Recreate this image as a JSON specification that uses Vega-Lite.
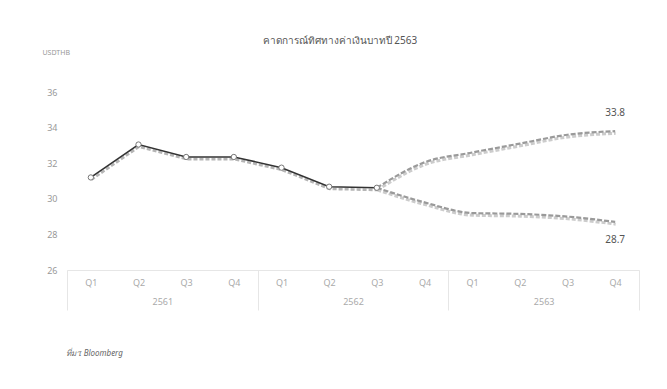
{
  "$schema": "https://vega.github.io/schema/vega-lite/v6.json",
  "width": 572,
  "height": 178,
  "autosize": "none",
  "padding": {"left": 67, "top": 92, "right": 28, "bottom": 119},
  "background": "white",
  "config": {
    "view": {"stroke": null},
    "font": "Noto Sans",
    "axis": {"labelFont": "Noto Sans", "titleFont": "Noto Sans"}
  },
  "title": {
    "text": "คาดการณ์ทิศทางค่าเงินบาทปี 2563",
    "fontSize": 10,
    "fontWeight": "normal",
    "color": "#555555",
    "anchor": "middle",
    "dx": -13,
    "offset": 2
  },
  "data": {
    "values": [
      {"key": "2561 Q1", "year": "2561", "series": "actual", "value": 31.2},
      {"key": "2561 Q2", "year": "2561", "series": "actual", "value": 33.05},
      {"key": "2561 Q3", "year": "2561", "series": "actual", "value": 32.35},
      {"key": "2561 Q4", "year": "2561", "series": "actual", "value": 32.35},
      {"key": "2562 Q1", "year": "2562", "series": "actual", "value": 31.75},
      {"key": "2562 Q2", "year": "2562", "series": "actual", "value": 30.68},
      {"key": "2562 Q3", "year": "2562", "series": "actual", "value": 30.62},
      {"key": "2562 Q3", "year": "2562", "series": "high", "value": 30.62},
      {"key": "2562 Q4", "year": "2562", "series": "high", "value": 32.05},
      {"key": "2563 Q1", "year": "2563", "series": "high", "value": 32.6},
      {"key": "2563 Q2", "year": "2563", "series": "high", "value": 33.1},
      {"key": "2563 Q3", "year": "2563", "series": "high", "value": 33.6},
      {"key": "2563 Q4", "year": "2563", "series": "high", "value": 33.8},
      {"key": "2562 Q3", "year": "2562", "series": "low", "value": 30.62},
      {"key": "2562 Q4", "year": "2562", "series": "low", "value": 29.8},
      {"key": "2563 Q1", "year": "2563", "series": "low", "value": 29.2},
      {"key": "2563 Q2", "year": "2563", "series": "low", "value": 29.15},
      {"key": "2563 Q3", "year": "2563", "series": "low", "value": 29.0},
      {"key": "2563 Q4", "year": "2563", "series": "low", "value": 28.7}
    ]
  },
  "encoding": {
    "y": {
      "field": "value",
      "type": "quantitative",
      "scale": {"domain": [26, 36], "nice": false, "zero": false},
      "axis": {
        "values": [26, 28, 30, 32, 34, 36],
        "title": "USDTHB",
        "titleAngle": 0,
        "titleAlign": "left",
        "titleBaseline": "middle",
        "titleX": -25,
        "titleY": -40,
        "titleFontSize": 7,
        "titleFontWeight": "normal",
        "titleColor": "#999999",
        "labelFontSize": 9,
        "labelColor": "#999999",
        "labelPadding": 10,
        "domain": false,
        "ticks": false,
        "grid": false
      }
    }
  },
  "layer": [
    {
      "encoding": {
        "x": {
          "field": "key",
          "type": "ordinal",
          "scale": {
            "type": "point",
            "padding": 0.5,
            "domain": ["2561 Q1", "2561 Q2", "2561 Q3", "2561 Q4", "2562 Q1", "2562 Q2", "2562 Q3", "2562 Q4", "2563 Q1", "2563 Q2", "2563 Q3", "2563 Q4"]
          },
          "axis": {
            "title": null,
            "labelExpr": "split(datum.label, ' ')[1]",
            "labelAngle": 0,
            "labelFontSize": 9,
            "labelColor": "#aaaaaa",
            "labelPadding": 8,
            "ticks": false,
            "domainColor": "#e6e6e6",
            "grid": false
          }
        }
      },
      "layer": [
        {
          "transform": [{"filter": "datum.series == 'actual'"}],
          "mark": {"type": "line", "color": "#b5b5b5", "strokeWidth": 2.6, "strokeDash": [4, 2], "yOffset": 2.2, "xOffset": 0.5},
          "encoding": {}
        },
        {
          "transform": [{"filter": "datum.series != 'actual'"}],
          "mark": {"type": "line", "color": "#cccccc", "strokeWidth": 3, "strokeDash": [4, 2], "yOffset": 2.2, "xOffset": 0.5, "interpolate": "monotone"},
          "encoding": {"detail": {"field": "series"}}
        },
        {
          "transform": [{"filter": "datum.series != 'actual'"}],
          "mark": {"type": "line", "color": "#9a9a9a", "strokeWidth": 2.2, "strokeDash": [5, 2], "interpolate": "monotone"},
          "encoding": {"detail": {"field": "series"}}
        },
        {
          "transform": [{"filter": "datum.series == 'actual'"}],
          "mark": {"type": "line", "color": "#333333", "strokeWidth": 1.6},
          "encoding": {}
        },
        {
          "transform": [{"filter": "datum.series == 'actual'"}],
          "mark": {"type": "point", "shape": "circle", "filled": true, "fill": "white", "stroke": "#777777", "strokeWidth": 1, "size": 28, "opacity": 1}
        },
        {
          "transform": [{"filter": "datum.series == 'high' && datum.key == '2563 Q4'"}],
          "mark": {"type": "text", "dy": -18, "fontSize": 10, "color": "#555555"},
          "encoding": {"text": {"field": "value", "type": "quantitative", "format": ".1f"}}
        },
        {
          "transform": [{"filter": "datum.series == 'low' && datum.key == '2563 Q4'"}],
          "mark": {"type": "text", "dy": 18, "fontSize": 10, "color": "#555555"},
          "encoding": {"text": {"field": "value", "type": "quantitative", "format": ".1f"}}
        }
      ]
    },
    {
      "mark": {"type": "point", "opacity": 0},
      "encoding": {
        "x": {
          "field": "year",
          "type": "ordinal",
          "scale": {"type": "band", "paddingInner": 0, "paddingOuter": 0, "domain": ["2561", "2562", "2563"]},
          "axis": {
            "orient": "bottom",
            "title": "ที่มา: Bloomberg",
            "titleX": -2,
            "titleY": 83,
            "titleAlign": "left",
            "titleBaseline": "middle",
            "titleFontSize": 8,
            "titleFontWeight": "normal",
            "titleFontStyle": "italic",
            "titleColor": "#666666",
            "labelAngle": 0,
            "labelFontSize": 9,
            "labelColor": "#aaaaaa",
            "labelPadding": -13,
            "tickBand": "extent",
            "tickSize": 40,
            "tickColor": "#e6e6e6",
            "domainColor": "#e6e6e6",
            "grid": false
          }
        }
      }
    }
  ],
  "resolve": {"scale": {"x": "independent"}, "axis": {"x": "independent"}}
}
